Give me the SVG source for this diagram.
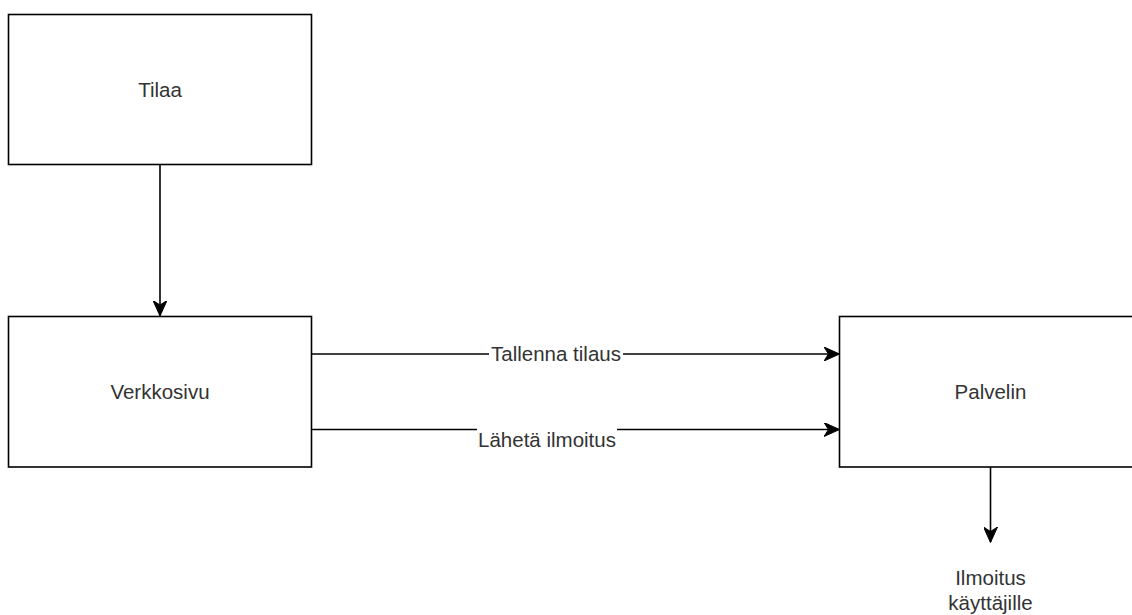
<svg xmlns="http://www.w3.org/2000/svg" width="1132" height="615" viewBox="0 0 1132 615">
  <defs>
    <style>
      .box { fill: #ffffff; stroke: #000000; stroke-width: 1.6; }
      .edge { fill: none; stroke: #000000; stroke-width: 1.6; }
      .lbl { font-family: "Liberation Sans", Arial, sans-serif; font-size: 20.5px; fill: #333333; text-anchor: middle; }
      .bg { fill: #ffffff; }
    </style>
    <marker id="arrow" viewBox="0 0 16 14" refX="15" refY="7" markerWidth="16" markerHeight="14" markerUnits="userSpaceOnUse" orient="auto">
      <path d="M15.5,7 L0,0 L4.5,7 L0,14 Z" fill="#000000" stroke="#000000" stroke-width="1" stroke-linejoin="miter"/>
    </marker>
  </defs>
  <rect width="1132" height="615" fill="#ffffff"/>

  <g id="connectors">
    <path class="edge" d="M160,165 L160,315.5" marker-end="url(#arrow)"/>
    <path class="edge" d="M311.5,354 L839,354" marker-end="url(#arrow)"/>
    <path class="edge" d="M311.5,429.5 L839,429.5" marker-end="url(#arrow)"/>
    <path class="edge" d="M990.5,467 L990.5,542" marker-end="url(#arrow)"/>
    <g id="label-tallenna">
      <rect class="bg" x="489" y="345" width="134" height="18"/>
      <text class="lbl" x="556" y="361">Tallenna tilaus</text>
    </g>
    <g id="label-laheta">
      <rect class="bg" x="477" y="428" width="140" height="21"/>
      <text class="lbl" x="547" y="447">Lähetä ilmoitus</text>
    </g>
  </g>

  <g id="node-tilaa">
    <rect class="box" x="8.5" y="14.5" width="303" height="150"/>
    <text class="lbl" x="160" y="97">Tilaa</text>
  </g>
  <g id="node-verkkosivu">
    <rect class="box" x="8.5" y="316.5" width="303" height="150.5"/>
    <text class="lbl" x="160" y="398.5">Verkkosivu</text>
  </g>
  <g id="node-palvelin">
    <rect class="box" x="839.5" y="316.5" width="303" height="150.5"/>
    <text class="lbl" x="990.5" y="398.5">Palvelin</text>
  </g>
  <g id="node-ilmoitus">
    <text class="lbl" x="990.5" y="585">Ilmoitus</text>
    <text class="lbl" x="990.5" y="610">käyttäjille</text>
  </g>
</svg>
